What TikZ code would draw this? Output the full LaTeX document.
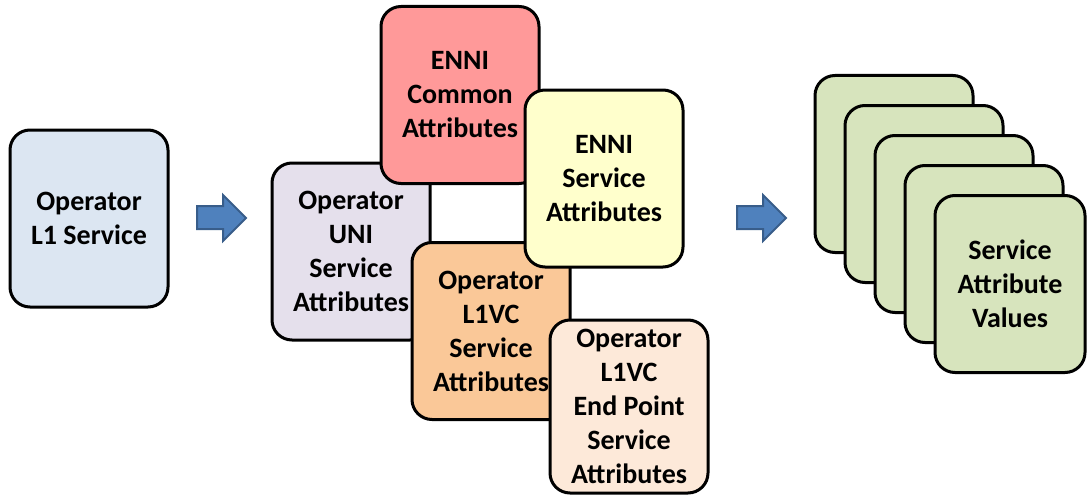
\documentclass[tikz,border=0pt]{standalone}
\usepackage{fontspec}
\setmainfont{Carlito}

\definecolor{svcblue}{HTML}{DCE6F2}
\definecolor{ennired}{HTML}{FF9999}
\definecolor{unililac}{HTML}{E5E0EC}
\definecolor{enniyellow}{HTML}{FFFFCC}
\definecolor{vcorange}{HTML}{FAC898}
\definecolor{eppeach}{HTML}{FDE9D9}
\definecolor{valgreen}{HTML}{D7E4BD}
\definecolor{arrowfill}{HTML}{4F81BD}
\definecolor{arrowdraw}{HTML}{385D8A}

\tikzset{
  attrbox/.style={draw=black, line width=3pt, rounded corners=20pt, align=center,
    minimum width=158pt, minimum height=177pt, inner sep=0pt,
    font=\bfseries\fontsize{28}{34}\selectfont},
  blockarrow/.style={fill=arrowfill, draw=arrowdraw, line width=2pt, line join=miter}
}

\begin{document}
\begin{tikzpicture}[x=1pt, y=-1pt]
\useasboundingbox (0,0) rectangle (1087,495);

\node[attrbox, fill=svcblue] (l1svc) at (89,218.5) {Operator\\L1 Service};

\path[blockarrow] (197,206) -- (223,206) -- (223,195) -- (246,218) -- (223,241) -- (223,229) -- (197,229) -- cycle;

\node[attrbox, fill=unililac] (uni) at (351,251.5) {Operator\\UNI\\Service\\Attributes};
\node[attrbox, fill=ennired] (ennicommon) at (460,95) {ENNI\\Common\\Attributes};
\node[attrbox, fill=vcorange] (l1vc) at (491,331) {Operator\\L1VC\\Service\\Attributes};
\node[attrbox, fill=enniyellow] (enniservice) at (604,178.5) {ENNI\\Service\\Attributes};
\node[attrbox, fill=eppeach, minimum height=173pt] (endpoint) at (629,406.5) {Operator\\L1VC\\End Point\\Service\\Attributes};

\path[blockarrow] (737,206) -- (763,206) -- (763,195) -- (786,218) -- (763,241) -- (763,229) -- (737,229) -- cycle;

\foreach \i in {0,...,3}
  \node[attrbox, fill=valgreen] (value\i) at (894+30*\i,164+30*\i) {};
\node[attrbox, fill=valgreen, minimum width=150pt] (values) at (1010,284) {Service\\Attribute\\Values};

\end{tikzpicture}
\end{document}
